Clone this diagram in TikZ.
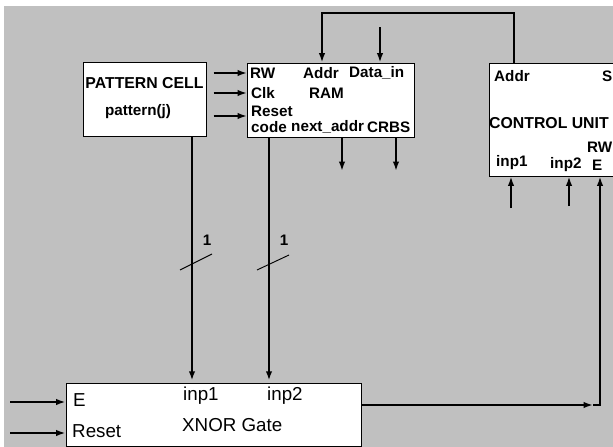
\documentclass[tikz,border=0pt]{standalone}
\usepackage{fontspec}
\setmainfont{Liberation Sans}
\usetikzlibrary{arrows.meta}
\definecolor{panelgray}{RGB}{192,192,192}

\begin{document}
\begin{tikzpicture}[x=0.03cm,y=-0.03cm,
    box/.style={draw,fill=white,line width=0.8pt,inner sep=0pt},
    lbl/.style={font=\bfseries\fontsize{13}{15}\selectfont,inner sep=0pt,anchor=west},
    xlbl/.style={font=\fontsize{16}{18}\selectfont,inner sep=0pt,anchor=west},
    sig/.style={line width=2.1pt,-{Latex[length=8pt,width=5.5pt]}},
    tick/.style={line width=0.8pt}]
  \useasboundingbox (0,0) rectangle (613,447);
  \fill[white] (0,0) rectangle (613,447);
  \fill[panelgray] (4,6) rectangle (613,447);

  % blocks
  \node[box,minimum width=3.69cm,minimum height=2.22cm] (pc) at (144.5,99) {};
  \node[box,minimum width=5.01cm,minimum height=2.22cm] (ram) at (330.5,100) {};
  \node[box,minimum width=3.81cm,minimum height=3.39cm] (cu) at (552.5,119.5) {};
  \node[box,minimum width=8.85cm,minimum height=1.89cm] (xn) at (213.5,414.5) {};

  % pattern cell
  \node[lbl,anchor=center,font=\bfseries\fontsize{13.5}{15}\selectfont] (pcname) at (144.5,83) {PATTERN CELL};
  \node[lbl,anchor=center] (pcpat) at (138,112) {pattern(j)};

  % RAM ports
  \node[lbl] (rw) at (250,73) {RW};
  \node[lbl] (raddr) at (303,73) {Addr};
  \node[lbl] (din) at (349,73) {Data\_in};
  \node[lbl] (clk) at (251,93) {Clk};
  \node[lbl] (ramname) at (309,93) {RAM};
  \node[lbl] (rst) at (251,111) {Reset};
  \node[lbl] (code) at (251,127) {code};
  \node[lbl] (nxt) at (291,127) {next\_addr};
  \node[lbl] (crbs) at (367,127) {CRBS};

  % control unit ports
  \node[lbl] (caddr) at (494,76) {Addr};
  \node[lbl] (cs) at (602,76) {S};
  \node[lbl,font=\bfseries\fontsize{13.5}{15}\selectfont] (cuname) at (489,123) {CONTROL UNIT};
  \node[lbl] (crw) at (587,147) {RW};
  \node[lbl] (cinp1) at (496,163) {inp1};
  \node[lbl] (cinp2) at (550,165) {inp2};
  \node[lbl] (ce) at (592,165) {E};

  % XNOR gate ports
  \node[xlbl] (xe) at (73,400) {E};
  \node[xlbl] (xrst) at (72,431) {Reset};
  \node[xlbl] (xinp1) at (183,396) {inp1};
  \node[xlbl] (xinp2) at (267,396) {inp2};
  \node[xlbl] (xname) at (182,425) {XNOR Gate};

  % free ends and bends
  \coordinate (rin1) at (247,73);
  \coordinate (rin2) at (247,93);
  \coordinate (rin3) at (247,116);
  \coordinate (nxa) at (342,171);
  \coordinate (crb) at (396,171);
  \coordinate (bus1) at (192,383);
  \coordinate (bus2) at (269,383);
  \coordinate (fbr) at (514,13);
  \coordinate (fbl) at (322,13);
  \coordinate (dsrc) at (380,27);
  \coordinate (cin1) at (511,208);
  \coordinate (cin2) at (569,206);
  \coordinate (xo) at (593,405);
  \coordinate (corner) at (600,405);
  \coordinate (ein) at (10,402);
  \coordinate (rsin) at (10,433);

  % pattern cell to RAM
  \draw[sig,shorten <=6pt] (pc.east |- rin1) -- (rin1);
  \draw[sig,shorten <=6pt] (pc.east |- rin2) -- (rin2);
  \draw[sig,shorten <=6pt] (pc.east |- rin3) -- (rin3);

  % RAM outputs
  \draw[sig] (ram.south -| nxa) -- (nxa);
  \draw[sig] (ram.south -| crb) -- (crb);

  % buses into the XNOR gate
  \draw[sig,shorten >=2pt] (pc.south -| bus1) -- (bus1);
  \draw[sig,shorten >=2pt] (ram.south -| bus2) -- (bus2);
  \draw[tick] (180,270) -- (212,254);
  \draw[tick] (257,270) -- (289,255);
  \node[lbl,anchor=center] (w1) at (207,240) {1};
  \node[lbl,anchor=center] (w2) at (284,240) {1};

  % address feedback and data input
  \draw[sig] (cu.north -| fbr) -- (fbr) -- (fbl) -- (ram.north -| fbl);
  \draw[sig] (dsrc) -- (ram.north -| dsrc);

  % control unit inputs
  \draw[sig] (cin1) -- (cu.south -| cin1);
  \draw[sig] (cin2) -- (cu.south -| cin2);

  % XNOR gate
  \draw[sig] (ein) -- (xn.west |- ein);
  \draw[sig] (rsin) -- (xn.west |- rsin);
  \draw[sig] (xn.east |- corner) -- (xo);
  \draw[sig] (xo) -- (corner) -- (cu.south -| corner);
\end{tikzpicture}
\end{document}
